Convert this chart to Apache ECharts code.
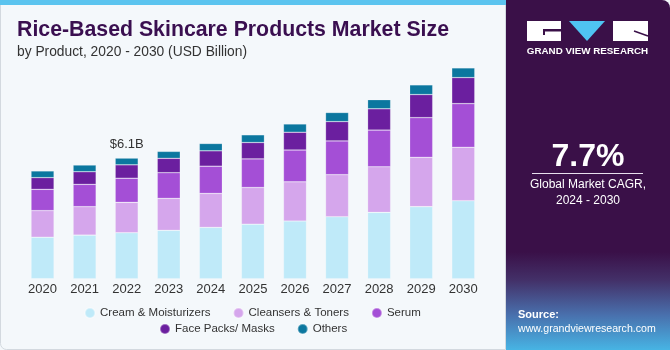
<!DOCTYPE html>
<html>
<head>
<meta charset="utf-8">
<script src="https://cdn.jsdelivr.net/npm/echarts@6/dist/echarts.min.js"></script>
<style>
  html, body { margin: 0; padding: 0; background: #fff; }
  #chart { width: 670px; height: 350px; }
</style>
</head>
<body>
<div id="chart"></div>
<script>
// values, USD billion
const years = ['2020', '2021', '2022', '2023', '2024', '2025', '2026', '2027', '2028', '2029', '2030']
const cream = [2.10, 2.21, 2.33, 2.45, 2.60, 2.76, 2.92, 3.14, 3.36, 3.65, 3.95]
const cleansers = [1.35, 1.44, 1.54, 1.62, 1.72, 1.86, 1.99, 2.13, 2.31, 2.50, 2.71]
const serum = [1.08, 1.13, 1.22, 1.30, 1.38, 1.45, 1.61, 1.71, 1.86, 2.01, 2.21]
const facePacks = [0.59, 0.64, 0.68, 0.73, 0.78, 0.83, 0.90, 0.98, 1.08, 1.17, 1.32]
const others = [0.34, 0.34, 0.34, 0.35, 0.37, 0.39, 0.42, 0.46, 0.46, 0.49, 0.49]
const names = ['Cream & Moisturizers', 'Cleansers & Toners', 'Serum', 'Face Packs/ Masks', 'Others']
const colors = ['#bfeaf9', '#d5a6ec', '#a44fd6', '#6b1f9f', '#0b779f']
const labelIndex = 2
const labelText = '$6.1B'

const font = 'Liberation Sans, Arial, sans-serif'
const seriesData = [cream, cleansers, serum, facePacks, others]

let series = seriesData.map((arr, i) => {
  let data = arr.slice()
  if (i === seriesData.length - 1) {
    data[labelIndex] = {
      value: arr[labelIndex],
      label: { show: true, position: 'top', distance: 7, formatter: labelText, color: '#333', fontSize: 13, fontFamily: font }
    }
  }
  return {
    name: names[i],
    type: 'bar',
    stack: 'total',
    barWidth: 23,
    itemStyle: { color: colors[i], borderColor: 'rgba(255,255,255,0.35)', borderWidth: 0.6 },
    emphasis: { disabled: true },
    data: data
  }
})

let legendText = { color: '#333', fontSize: 11.5, fontFamily: font }

let option = {
  backgroundColor: '#f4f8fb',
  animation: false,
  title: {
    text: 'Rice-Based Skincare Products Market Size',
    subtext: 'by Product, 2020 - 2030 (USD Billion)',
    left: 12,
    top: 15,
    itemGap: 4,
    textStyle: { color: '#3a0f50', fontSize: 21.3, fontWeight: 'bold', fontFamily: font },
    subtextStyle: { color: '#333', fontSize: 13.8, fontFamily: font }
  },
  legend: [
    {
      data: names.slice(0, 3),
      left: 84,
      top: 307,
      padding: 0,
      icon: 'circle',
      itemWidth: 10,
      itemHeight: 10,
      itemGap: 22,
      textStyle: legendText,
      selectedMode: false
    },
    {
      data: names.slice(3),
      left: 159,
      top: 323,
      padding: 0,
      icon: 'circle',
      itemWidth: 10,
      itemHeight: 10,
      itemGap: 22,
      textStyle: legendText,
      selectedMode: false
    }
  ],
  grid: {
    left: 21.5,
    right: 185.7,
    top: 61.6,
    bottom: 71.3
  },
  xAxis: {
    type: 'category',
    data: years,
    axisLine: { show: false },
    axisTick: { show: false },
    axisLabel: { color: '#333', fontSize: 13, fontFamily: font, margin: 4 }
  },
  yAxis: {
    type: 'value',
    min: 0,
    max: 11,
    show: false
  },
  graphic: [
    { type: 'rect', z: -10, shape: { x: 0.5, y: 0.5, width: 505, height: 349, r: [0, 0, 0, 6] }, style: { fill: '#f4f8fb', stroke: '#d3d9df', lineWidth: 1 } },
    { type: 'rect', z: -9, shape: { x: 0, y: 0, width: 506, height: 5 }, style: { fill: '#5bc4ef' } },
    { type: 'rect', z: -9, shape: { x: 506, y: 0, width: 164, height: 350, r: [0, 8, 0, 0] }, style: {
      fill: new echarts.graphic.LinearGradient(0, 0, 0, 1, [
        { offset: 0, color: '#3a1048' },
        { offset: 0.72, color: '#3a1048' },
        { offset: 0.8, color: '#433068' },
        { offset: 0.9, color: '#4970ad' },
        { offset: 1, color: '#47b4e4' }
      ])
    } },
    // logo
    { type: 'rect', shape: { x: 527, y: 21, width: 34, height: 20 }, style: { fill: '#fff' } },
    { type: 'rect', shape: { x: 543, y: 29, width: 18, height: 2.5 }, style: { fill: '#3a1048' } },
    { type: 'rect', shape: { x: 543, y: 29, width: 2, height: 6 }, style: { fill: '#3a1048' } },
    { type: 'polygon', shape: { points: [[569, 21], [605, 21], [587, 41]] }, style: { fill: '#4fc3f2' } },
    { type: 'rect', shape: { x: 613, y: 21, width: 35, height: 20 }, style: { fill: '#fff' } },
    { type: 'polyline', shape: { points: [[634, 31], [648, 36]] }, style: { stroke: '#3a1048', lineWidth: 1.5 } },
    { type: 'text', style: { x: 587.5, y: 51.5, text: 'GRAND VIEW RESEARCH', fill: '#fff', font: 'bold 9.8px ' + font, align: 'center', verticalAlign: 'middle' } },
    // CAGR
    { type: 'text', style: { x: 588, y: 157, text: '7.7%', fill: '#fff', font: 'bold 32px ' + font, align: 'center', verticalAlign: 'middle' } },
    { type: 'line', shape: { x1: 532, y1: 173.5, x2: 643, y2: 173.5 }, style: { stroke: '#e8e0ee', lineWidth: 1 } },
    { type: 'text', style: { x: 588, y: 185, text: 'Global Market CAGR,', fill: '#fff', font: '12px ' + font, align: 'center', verticalAlign: 'middle' } },
    { type: 'text', style: { x: 588, y: 200.5, text: '2024 - 2030', fill: '#fff', font: '12px ' + font, align: 'center', verticalAlign: 'middle' } },
    // source
    { type: 'text', style: { x: 518, y: 315, text: 'Source:', fill: '#fff', font: 'bold 11px ' + font, align: 'left', verticalAlign: 'middle' } },
    { type: 'text', style: { x: 518, y: 329.5, text: 'www.grandviewresearch.com', fill: '#fff', font: '10.6px ' + font, align: 'left', verticalAlign: 'middle' } }
  ],
  series: series
}

let chart = echarts.init(document.getElementById('chart'))
chart.setOption(option)
</script>
</body>
</html>
